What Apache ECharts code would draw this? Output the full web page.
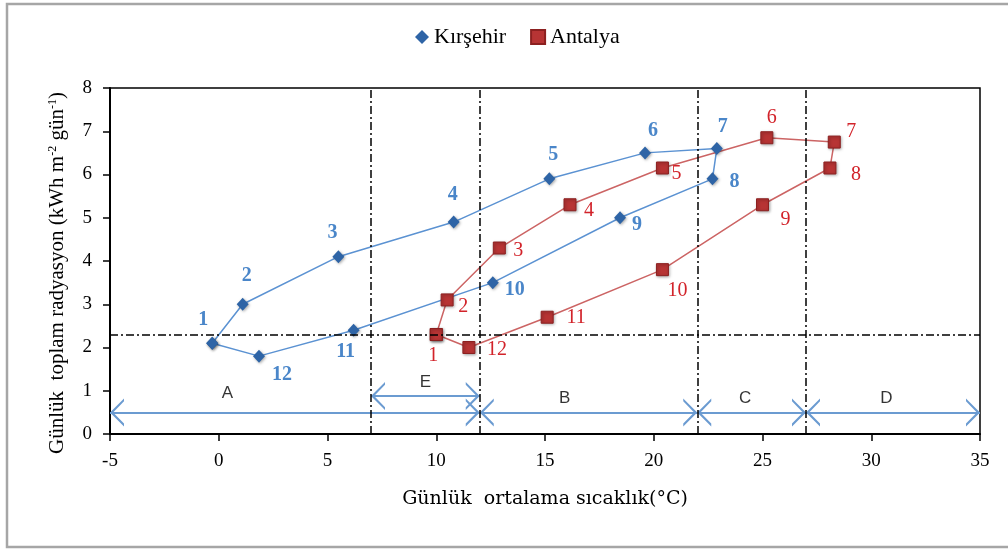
<!DOCTYPE html>
<html style="height: 100%">
<head>
	<meta charset="utf-8">
	<title></title>
	<script type="text/javascript" src="https://cdn.jsdelivr.net/npm/echarts@6/dist/echarts.min.js"></script>
</head>
<body style="height: 100%; margin: 0; background: #fff">
<div id="container" style="height: 100%"></div>
<script type="text/javascript">
	// month numbers shown next to each point
	var months = ['1','2','3','4','5','6','7','8','9','10','11','12'];
	// Kirsehir: mean daily temperature (C) and daily radiation (kWh m-2 day-1)
	var kirsehirT = [-0.3, 1.1, 5.5, 10.8, 15.2, 19.6, 22.9, 22.7, 18.45, 12.6, 6.2, 1.85];
	var kirsehirR = [2.1, 3.0, 4.1, 4.9, 5.9, 6.5, 6.6, 5.9, 5.0, 3.5, 2.4, 1.8];
	// Antalya
	var antalyaT = [10.0, 10.5, 12.9, 16.15, 20.4, 25.2, 28.3, 28.1, 25.0, 20.4, 15.1, 11.5];
	var antalyaR = [2.3, 3.1, 4.3, 5.3, 6.15, 6.85, 6.75, 6.15, 5.3, 3.8, 2.7, 2.0];
	// dash-dot guide lines
	var tempLimits = [7, 12, 22, 27];
	var radLimit = 2.3;
	// temperature zones drawn as arrows
	var zoneNames = ['A', 'E', 'B', 'C', 'D'];
	var zoneFrom = [-5, 7, 12, 22, 27];
	var zoneTo = [12, 12, 22, 27, 35];
	var zoneLevel = [0.5, 0.88, 0.5, 0.5, 0.5];
	var zoneLabelT = [0.4, 9.5, 15.9, 24.2, 30.7];
	var zoneLabelR = [0.93, 1.2, 0.83, 0.83, 0.83];

	// label offsets (px) of the month numbers
	var kirLabelOff = [[-9,-23],[4,-28],[-6,-24],[-1,-27],[4,-24],[8,-22],[6,-22],[22,3],[17,7],[22,7],[-8,22],[23,19]];
	var antLabelOff = [[-3,21],[16,7],[19,3],[19,6],[14,6],[5,-20],[17,-10],[26,7],[23,15],[15,21],[29,1],[28,2]];

	function loop(t, r, off) {
		var d = [];
		for (var i = 0; i < t.length; i++) {
			d.push({value: [t[i], r[i]], name: months[i], label: {offset: off[i]}});
		}
		d.push({value: [t[0], r[0]], name: '', label: {show: false}});
		return d;
	}

	var guideLines = [];
	for (var i = 0; i < tempLimits.length; i++) guideLines.push({xAxis: tempLimits[i]});
	guideLines.push({yAxis: radLimit});

	var arrows = [];
	var zoneLabels = [];
	for (var j = 0; j < zoneNames.length; j++) {
		arrows.push([{coord: [zoneFrom[j], zoneLevel[j]]}, {coord: [zoneTo[j], zoneLevel[j]]}]);
		zoneLabels.push({value: [zoneLabelT[j], zoneLabelR[j]], name: zoneNames[j]});
	}

	var serif = 'Liberation Serif';
	// open arrow head; tip sits at the middle of the box so it ends on the line end
	var chevron = 'path://M6,0L6.02,0L6,0.02Z M0,16L6,8L12,16L10.8,16L6,9.8L1.2,16Z';

	var myChart = echarts.init(document.getElementById('container'));
	var option = {
		animation: false,
		graphic: [{
			type: 'rect', z: -10,
			shape: {x: 7, y: 4, width: 1010, height: 543},
			style: {fill: 'none', stroke: '#a6a6a6', lineWidth: 2.5}
		}],
		legend: {
			top: 21, left: 410,
			itemGap: 24, itemWidth: 14, itemHeight: 14,
			textStyle: {fontFamily: serif, fontSize: 22, color: '#000'},
			data: [{name: 'Kırşehir', icon: 'diamond'}, {name: 'Antalya', icon: 'rect'}]
		},
		grid: {left: 110, right: 28, top: 88, bottom: 115, show: true, borderColor: '#000', borderWidth: 1.5},
		xAxis: {
			type: 'value', min: -5, max: 35, interval: 5,
			name: 'Günlük  ortalama sıcaklık(°C)', nameLocation: 'middle', nameGap: 56,
			nameTextStyle: {fontFamily: 'DejaVu Serif', fontSize: 19, color: '#000'},
			axisLine: {lineStyle: {color: '#000', width: 2}},
			axisTick: {length: 7, lineStyle: {color: '#000', width: 1.5}},
			axisLabel: {fontFamily: serif, fontSize: 19, color: '#000', margin: 18},
			splitLine: {show: false}
		},
		yAxis: {
			type: 'value', min: 0, max: 8, interval: 1,
			name: '{t|Günlük  toplam radyasyon (kWh m}{s|-2}{t| gün}{s|-1}{t|)}',
			nameLocation: 'middle', nameGap: 42, nameRotate: 90,
			nameTextStyle: {
				padding: [0, 24, 0, 0],
				rich: {
					t: {fontFamily: serif, fontSize: 21, color: '#000'},
					s: {fontFamily: serif, fontSize: 12, color: '#000', verticalAlign: 'top', padding: [0, 0, 9, 0]}
				}
			},
			axisLine: {show: true, onZero: false, lineStyle: {color: '#000', width: 2}},
			axisTick: {show: true, length: 7, lineStyle: {color: '#000', width: 1.5}},
			axisLabel: {fontFamily: serif, fontSize: 19, color: '#000', margin: 18},
			splitLine: {show: false}
		},
		series: [{
			name: 'Kırşehir',
			type: 'line',
			data: loop(kirsehirT, kirsehirR, kirLabelOff),
			symbol: 'diamond', symbolSize: [12, 13],
			itemStyle: {color: '#2e64a6', shadowBlur: 3, shadowColor: 'rgba(0,0,0,0.35)', shadowOffsetX: 1, shadowOffsetY: 1},
			lineStyle: {color: '#5b92d2', width: 1.5},
			label: {
				show: true, position: 'inside', formatter: '{b}',
				fontFamily: serif, fontSize: 20, fontWeight: 'bold', color: '#4a86c9'
			},
			z: 4
		}, {
			name: 'Antalya',
			type: 'line',
			data: loop(antalyaT, antalyaR, antLabelOff),
			symbol: 'rect', symbolSize: 12,
			itemStyle: {color: '#b73434', borderColor: '#8c2020', borderWidth: 1, shadowBlur: 3, shadowColor: 'rgba(0,0,0,0.35)', shadowOffsetX: 1, shadowOffsetY: 1},
			lineStyle: {color: '#cc6464', width: 1.5},
			label: {
				show: true, position: 'inside', formatter: '{b}',
				fontFamily: serif, fontSize: 20, color: '#d2232a'
			},
			z: 4
		}, {
			name: 'zones',
			type: 'scatter',
			data: zoneLabels,
			symbolSize: 0,
			silent: true,
			label: {show: true, position: 'inside', formatter: '{b}', fontFamily: 'Liberation Sans', fontSize: 17, color: '#000'},
			markLine: {
				silent: true,
				symbol: [chevron, chevron], symbolSize: 28,
				label: {show: false},
				lineStyle: {color: '#6b9bd1', width: 2, type: 'solid'},
				data: arrows
			},
			z: 2
		}, {
			name: 'limits',
			type: 'scatter',
			data: [],
			markLine: {
				silent: true,
				symbol: 'none',
				label: {show: false},
				lineStyle: {color: '#000', width: 1.5, type: [8, 3, 2, 3]},
				data: guideLines
			},
			z: 1
		}]
	};
	myChart.setOption(option);
</script>
</body>
</html>
